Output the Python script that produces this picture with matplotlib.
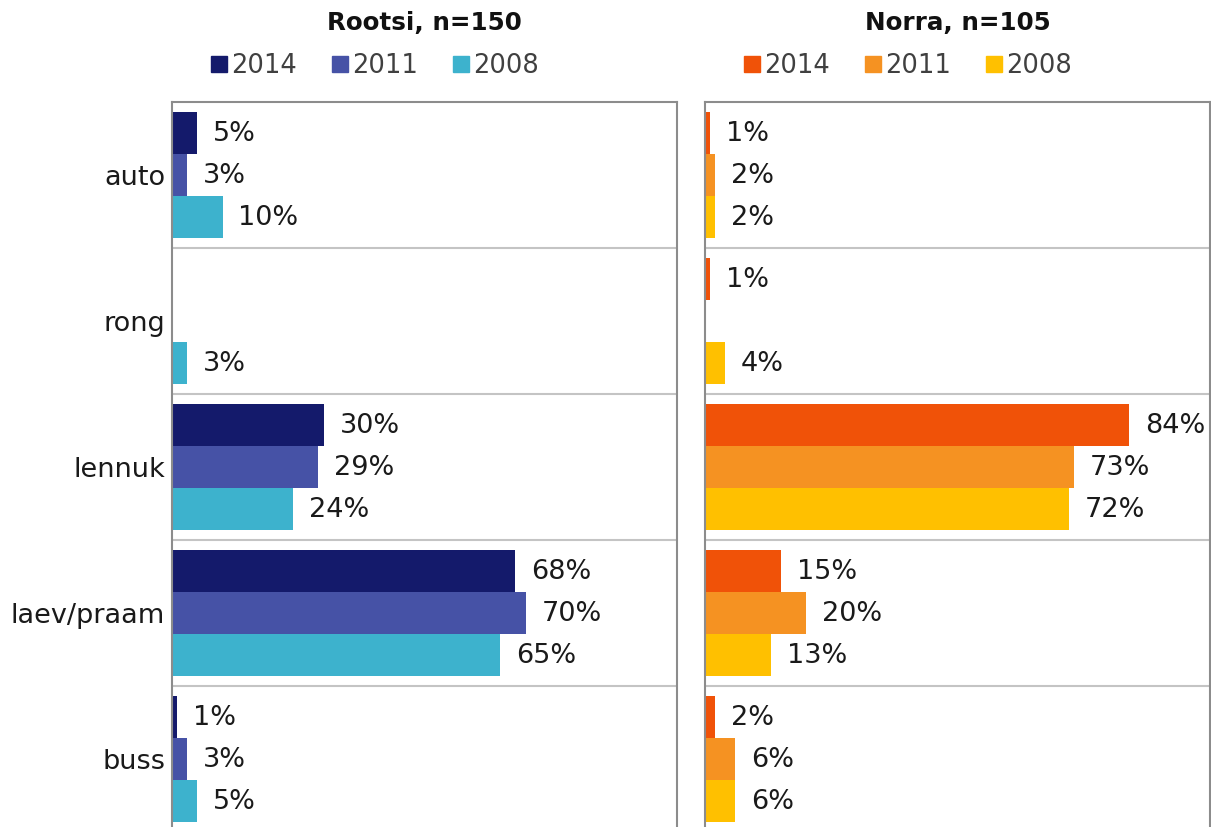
import numpy as np
import matplotlib.pyplot as plt
from matplotlib.lines import Line2D

plt.rcParams['font.family'] = ['DejaVu Sans']

# categories, top to bottom
categories = ["auto", "rong", "lennuk", "laev/praam", "buss"]
years = ["2014", "2011", "2008"]

# Rootsi, n=150 (None = no answer shown)
rootsi_2014 = [5, None, 30, 68, 1]
rootsi_2011 = [3, None, 29, 70, 3]
rootsi_2008 = [10, 3, 24, 65, 5]

# Norra, n=105
norra_2014 = [1, 1, 84, 15, 2]
norra_2011 = [2, None, 73, 20, 6]
norra_2008 = [2, 4, 72, 13, 6]

rootsi_colors = ["#141a6b", "#4652a6", "#3db2cd"]
norra_colors = ["#f05208", "#f59222", "#ffc000"]

fig = plt.figure(figsize=(12.11, 8.27), dpi=100)
W, H = 1211, 827

def panel(left_px, series, colors, title, show_labels):
    ax = fig.add_axes([left_px / W, -5 / H, 505 / W, 730 / H])
    y = np.arange(len(categories))
    h = 0.288
    for i, (vals, col) in enumerate(zip(series, colors)):
        for j, v in enumerate(vals):
            if v is None:
                continue
            yy = y[j] + (i - 1) * h
            ax.barh(yy, v, height=h, color=col, edgecolor="none")
            ax.annotate(f"{v}%", (v, yy), xytext=(11.5, -1),
                        textcoords="offset points", va="center", ha="left",
                        fontsize=19.5, color="#1a1a1a")
    for b in np.arange(0.5, len(categories) - 1, 1):
        ax.axhline(b, color="#c4c4c4", lw=1.5, zorder=0)
    ax.set_xlim(0, 100)
    ax.set_ylim(len(categories) - 0.5, -0.5)
    ax.set_xticks([])
    ax.set_yticks(y)
    if show_labels:
        ax.set_yticklabels(categories, fontsize=19.5, color="#1a1a1a")
    else:
        ax.set_yticklabels([])
    ax.tick_params(axis="y", length=0, pad=5)
    for s in ax.spines.values():
        s.set_color("#8c8c8c")
        s.set_linewidth(1.5)
    cx = (left_px + 252.5) / W
    fig.text(cx, 1 - 23 / H, title, ha="center", va="center",
             fontsize=17.7, fontweight="bold", color="#111111")
    handles = [Line2D([], [], marker="s", ls="none", markersize=11,
                      color=c) for c in colors]
    fig.legend(handles, years, loc="center",
               bbox_to_anchor=(cx - 50 / W, 1 - 66 / H),
               ncol=3, frameon=False, fontsize=18.5, handletextpad=0.15,
               columnspacing=1.3, labelcolor="#404040", handlelength=0.7)
    return ax

panel(172, [rootsi_2014, rootsi_2011, rootsi_2008], rootsi_colors,
      "Rootsi, n=150", True)
panel(705, [norra_2014, norra_2011, norra_2008], norra_colors,
      "Norra, n=105", False)

fig.savefig("out.png", dpi=100)
